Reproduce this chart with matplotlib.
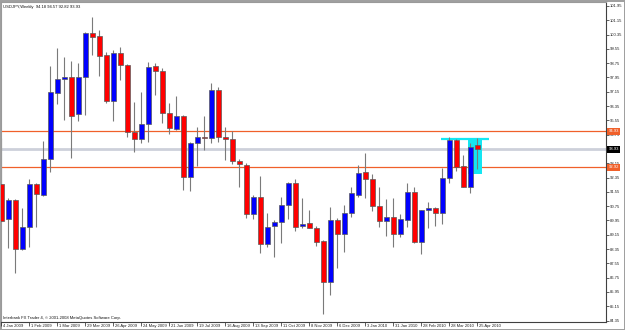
import matplotlib
matplotlib.use('Agg')
import matplotlib.pyplot as plt
from matplotlib.patches import Rectangle
from matplotlib.transforms import ScaledTranslation
import numpy as np

# Weekly USDJPY candles (4 Jan 2009 .. 25 Apr 2010)
opens = [91.97, 90.03, 91.10, 88.36, 89.61, 91.97, 91.38, 93.37, 97.10, 97.85,
         97.98, 95.93, 97.96, 100.46, 100.27, 99.23, 96.62, 99.30, 98.65, 94.92,
         94.49, 95.37, 98.59, 98.31, 95.98, 95.09, 95.80, 92.40, 94.27, 94.64,
         94.55, 97.25, 94.64, 94.49, 93.30, 93.05, 90.33, 91.28, 88.65, 89.62,
         89.87, 90.82, 92.03, 89.62, 89.79, 89.55, 88.80, 86.53, 89.98, 89.18,
         90.35, 91.38, 92.64, 92.27, 90.78, 89.92, 90.16, 89.20, 89.98, 91.53,
         88.77, 90.54, 90.63, 90.35, 92.31, 94.45, 93.00, 91.84, 94.18]
highs = [94.55, 91.19, 91.13, 90.65, 92.27, 92.05, 94.40, 98.61, 99.58, 99.12,
         98.87, 98.74, 100.50, 101.35, 100.61, 99.40, 99.49, 99.68, 98.70, 96.60,
         97.16, 98.80, 98.78, 98.46, 96.51, 96.92, 95.85, 94.36, 95.20, 95.80,
         97.66, 97.40, 95.20, 94.98, 93.37, 93.19, 91.38, 92.46, 90.35, 89.98,
         91.25, 92.12, 92.25, 91.23, 90.54, 89.64, 88.86, 90.72, 90.07, 90.82,
         91.84, 93.05, 93.71, 92.55, 91.80, 91.13, 91.23, 90.31, 92.07, 91.81,
         90.54, 91.00, 90.72, 92.87, 94.60, 94.49, 93.61, 94.27, 94.57]
lows = [89.88, 88.39, 87.03, 88.30, 88.49, 89.61, 91.34, 92.68, 96.47, 95.57,
        93.47, 95.54, 95.85, 99.21, 98.03, 96.51, 95.52, 97.81, 94.64, 93.80,
        94.30, 94.36, 96.97, 95.42, 94.79, 95.01, 91.66, 91.62, 93.00, 93.91,
        94.27, 94.32, 93.33, 93.11, 91.84, 90.11, 90.02, 88.15, 88.49, 87.93,
        88.71, 90.02, 89.38, 89.51, 89.51, 88.52, 84.72, 85.78, 87.27, 88.21,
        90.16, 91.28, 91.19, 90.50, 89.61, 89.08, 88.49, 89.05, 89.61, 88.67,
        88.06, 89.55, 89.64, 89.75, 92.03, 92.74, 91.80, 91.51, 92.82]
closes = [89.92, 91.10, 88.34, 89.61, 91.97, 91.43, 93.37, 97.12, 97.85, 97.98,
          95.82, 97.98, 100.46, 100.20, 99.17, 96.65, 99.34, 98.65, 94.92, 94.49,
          95.35, 98.56, 98.30, 95.98, 95.11, 95.80, 92.40, 94.27, 94.64, 94.56,
          97.25, 94.64, 94.49, 93.30, 93.09, 90.29, 91.28, 88.65, 89.61, 89.85,
          90.82, 92.03, 89.61, 89.75, 89.55, 88.77, 86.53, 89.98, 89.18, 90.35,
          91.47, 92.63, 92.25, 90.78, 89.92, 90.16, 89.20, 90.02, 91.53, 88.77,
          90.54, 90.63, 90.35, 92.31, 94.45, 92.96, 91.84, 94.04, 93.93]

date_labels = ['4 Jan 2009', '1 Feb 2009', '1 Mar 2009', '29 Mar 2009', '26 Apr 2009',
               '24 May 2009', '21 Jun 2009', '19 Jul 2009', '16 Aug 2009', '13 Sep 2009',
               '11 Oct 2009', '8 Nov 2009', '6 Dec 2009', '3 Jan 2010', '31 Jan 2010',
               '28 Feb 2010', '28 Mar 2010', '25 Apr 2010']
date_weeks = [0, 4, 8, 12, 16, 20, 24, 28, 32, 36, 40, 44, 48, 52, 56, 60, 64, 68]

price_ticks = [101.95, 101.15, 100.35, 99.55, 98.75, 97.95, 97.15, 96.35, 95.55,
               94.75, 93.95, 93.15, 92.35, 91.55, 90.75, 89.95, 89.15, 88.35,
               87.55, 86.75, 85.95, 85.15, 84.35]

title = 'USDJPY,Weekly  94.18 94.57 92.82 93.93'
copyright_text = 'Interbank FX Trader 4, \u00a9 2001-2008 MetaQuotes Software Corp.'

resistance = 94.93
support = 92.92
bid = 93.93
box_weeks = (66.69, 68.69)
box_prices = (92.55, 94.49)
cyan_line_weeks = (62.74, 69.7)
cyan_line_price = 94.49

FONT = ['Liberation Sans', 'DejaVu Sans']
FS = 3.0
plt.rcParams['font.family'] = FONT

W, H = 625, 330
fig = plt.figure(figsize=(W / 100, H / 100), dpi=100)
fig.patch.set_facecolor('white')
ax = fig.add_axes([1 / W, 8 / H, 605 / W, 320 / H])
ax.set_facecolor('white')

ax.set_xlim(-0.07, 86.36)
ax.set_ylim(84.27, 102.17)

# lines / objects behind candles
ax.axhline(bid, color='#CDD0DA', lw=2.0, zorder=1)
ax.axhline(resistance, color='#F0602A', lw=0.9, zorder=1.5)
ax.axhline(support, color='#F0602A', lw=0.9, zorder=1.5)
ax.add_patch(Rectangle((box_weeks[0], box_prices[0]), box_weeks[1] - box_weeks[0],
                       box_prices[1] - box_prices[0], facecolor='#14E6F2',
                       edgecolor='none', zorder=1.6))
ax.hlines(cyan_line_price, cyan_line_weeks[0], cyan_line_weeks[1],
          color='#14E6F2', lw=1.6, zorder=1.6)

# candles
w = 0.62
for i, (o, h, l, c) in enumerate(zip(opens, highs, lows, closes)):
    up = c >= o
    ax.vlines(i, l, h, color='#7a7a7a', lw=0.8, zorder=2)
    bottom = min(o, c)
    height = max(abs(c - o), 0.05)
    ax.add_patch(Rectangle((i - w / 2, bottom), w, height,
                           facecolor='#0000FF' if up else '#FF0000',
                           edgecolor='#5a5a5a', lw=0.5, zorder=3))

# axes styling
for side in ['top', 'left']:
    ax.spines[side].set_color('#9a9a9a')
    ax.spines[side].set_linewidth(0.8)
for side in ['right', 'bottom']:
    ax.spines[side].set_color('#404040')
    ax.spines[side].set_linewidth(0.8)

ax.yaxis.tick_right()
ax.set_yticks(price_ticks)
# the tick label hidden under the bid box is left blank
ax.set_yticklabels(['' if abs(v - bid) < 0.1 else f'{v:.2f}' for v in price_ticks])
ax.tick_params(axis='y', direction='out', length=2, width=0.5, pad=1,
               labelsize=FS, colors='#202020')

ax.set_xticks(date_weeks)
ax.set_xticklabels(date_labels)
ax.tick_params(axis='x', direction='out', length=3, width=0.5, pad=0.3,
               labelsize=FS, colors='#202020')
offset = ScaledTranslation(1.2 / 100, 2.5 / 100, fig.dpi_scale_trans)
for lab in ax.get_xticklabels():
    lab.set_ha('left')
    lab.set_transform(lab.get_transform() + offset)

# price boxes on the right axis
ytrans = ax.get_yaxis_transform()
for level, col in [(resistance, '#F0602A'), (support, '#F0602A'), (bid, '#000000')]:
    ax.text(1.004, level, f'{level:.2f}', transform=ytrans, fontsize=FS,
            color='white', va='center', ha='left', clip_on=False, zorder=10,
            bbox=dict(boxstyle='square,pad=0.35', fc=col, ec='none'))

ax.text(0.004, 0.992, title, transform=ax.transAxes, fontsize=FS,
        va='top', ha='left', color='#101010')
ax.text(0.004, 0.014, copyright_text, transform=ax.transAxes, fontsize=FS,
        va='center', ha='left', color='#101010')

fig.patch.set_edgecolor('#a0a0a0')
fig.patch.set_linewidth(1.0)

fig.savefig('out.png', dpi=100, facecolor=fig.get_facecolor(),
            edgecolor=fig.get_edgecolor())
